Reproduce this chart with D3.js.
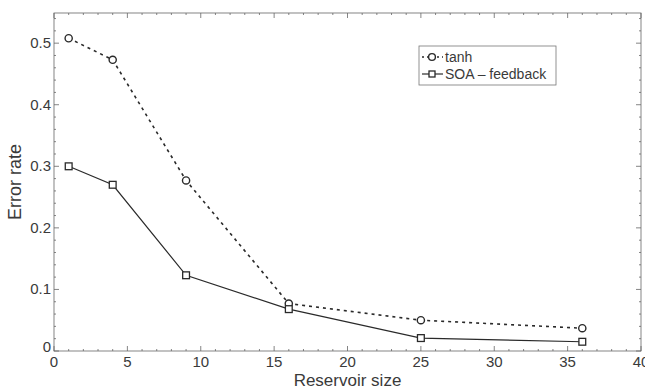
<!DOCTYPE html>
<html>
<head>
<meta charset="utf-8">
<script src="https://cdn.jsdelivr.net/npm/d3@7"></script>
<style>
  body { margin: 0; background: #fff; }
  svg text { font-family: "Liberation Sans", Arial, sans-serif; fill: #3a3a3a; }
</style>
</head>
<body>
<svg id="chart" width="645" height="389"></svg>
<script>
// reservoir sizes and error rates
const sizes = [1, 4, 9, 16, 25, 36];
const tanhErr = [0.508, 0.473, 0.277, 0.077, 0.050, 0.037];
const soaErr = [0.300, 0.270, 0.123, 0.068, 0.021, 0.015];
const xTicks = [0, 5, 10, 15, 20, 25, 30, 35, 40];
const yTicks = [0, 0.1, 0.2, 0.3, 0.4, 0.5];

const svg = d3.select('#chart');
const pLeft = 54, pRight = 641, pTop = 13, pBottom = 351;

const x = d3.scaleLinear().domain([0, 40]).range([pLeft, pRight]);
const y = d3.scaleLinear().domain([0, 0.549]).range([pBottom, pTop]);

const ink = '#2a2a2a';

// frame
svg.append('rect')
  .attr('x', pLeft).attr('y', pTop)
  .attr('width', pRight - pLeft).attr('height', pBottom - pTop)
  .attr('fill', 'none').attr('stroke', '#666').attr('stroke-width', 0.8);

// inward ticks, major and minor, on all four sides
let g = svg.append('g').attr('stroke', '#666').attr('stroke-width', 0.8);
d3.range(0, 41, 1).forEach(v => {
  let len = v % 5 == 0 ? 5 : 2;
  g.append('line').attr('x1', x(v)).attr('x2', x(v)).attr('y1', pBottom).attr('y2', pBottom - len);
  g.append('line').attr('x1', x(v)).attr('x2', x(v)).attr('y1', pTop).attr('y2', pTop + len);
});
d3.range(0, 28, 1).map(i => i * 0.02).forEach(v => {
  let major = Math.abs(v * 10 - Math.round(v * 10)) < 1e-6;
  let len = major ? 5 : 2;
  g.append('line').attr('y1', y(v)).attr('y2', y(v)).attr('x1', pLeft).attr('x2', pLeft + len);
  g.append('line').attr('y1', y(v)).attr('y2', y(v)).attr('x1', pRight).attr('x2', pRight - len);
});

// tick labels
svg.selectAll('.xt').data(xTicks).enter().append('text')
  .attr('x', d => x(d)).attr('y', pBottom + 16)
  .attr('text-anchor', 'middle').attr('font-size', 15)
  .text(d => d);

svg.selectAll('.yt').data(yTicks).enter().append('text')
  .attr('x', pLeft - 3).attr('y', d => y(d) + 5 - (d == 0 ? 4 : 0))
  .attr('text-anchor', 'end').attr('font-size', 15)
  .text(d => d);

// axis titles
svg.append('text')
  .attr('x', x(20)).attr('y', 386)
  .attr('text-anchor', 'middle').attr('font-size', 17)
  .text('Reservoir size');

svg.append('text')
  .attr('transform', `translate(21,${(pTop + pBottom) / 2}) rotate(-90)`)
  .attr('text-anchor', 'middle').attr('font-size', 18)
  .text('Error rate');

// series
const line = d3.line().x(d => x(d[0])).y(d => y(d[1]));
const tanhPts = d3.zip(sizes, tanhErr);
const soaPts = d3.zip(sizes, soaErr);

svg.append('path').datum(tanhPts).attr('d', line)
  .attr('fill', 'none').attr('stroke', ink).attr('stroke-width', 1.6)
  .attr('stroke-dasharray', '3,4');
svg.append('path').datum(soaPts).attr('d', line)
  .attr('fill', 'none').attr('stroke', ink).attr('stroke-width', 1.2);

svg.selectAll('.c').data(tanhPts).enter().append('circle')
  .attr('cx', d => x(d[0])).attr('cy', d => y(d[1])).attr('r', 3.6)
  .attr('fill', '#fff').attr('stroke', ink).attr('stroke-width', 1.4);
svg.selectAll('.s').data(soaPts).enter().append('rect')
  .attr('x', d => x(d[0]) - 3.4).attr('y', d => y(d[1]) - 3.4)
  .attr('width', 6.8).attr('height', 6.8)
  .attr('fill', '#fff').attr('stroke', ink).attr('stroke-width', 1.3);

// legend
const lg = svg.append('g').attr('transform', 'translate(419,46)');
lg.append('rect').attr('width', 137).attr('height', 39)
  .attr('fill', '#fff').attr('stroke', '#777').attr('stroke-width', 0.8);
lg.append('line').attr('x1', 3).attr('x2', 24).attr('y1', 11).attr('y2', 11)
  .attr('stroke', ink).attr('stroke-width', 1.4).attr('stroke-dasharray', '2,3');
lg.append('circle').attr('cx', 13).attr('cy', 11).attr('r', 3.4)
  .attr('fill', '#fff').attr('stroke', ink).attr('stroke-width', 1.4);
lg.append('text').attr('x', 26).attr('y', 16).attr('font-size', 14).text('tanh');
lg.append('line').attr('x1', 3).attr('x2', 24).attr('y1', 28).attr('y2', 28)
  .attr('stroke', ink).attr('stroke-width', 1.2);
lg.append('rect').attr('x', 10).attr('y', 25).attr('width', 6).attr('height', 6)
  .attr('fill', '#fff').attr('stroke', ink).attr('stroke-width', 1.3);
lg.append('text').attr('x', 26).attr('y', 33).attr('font-size', 14).text('SOA \u2013 feedback');
</script>
</body>
</html>
